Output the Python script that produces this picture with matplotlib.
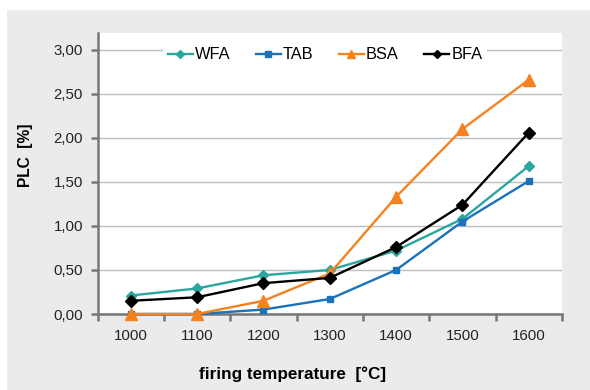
import matplotlib
matplotlib.use("Agg")
import matplotlib.pyplot as plt
from matplotlib.patches import Rectangle
import numpy as np

plt.rcParams['font.family'] = ['Liberation Sans', 'DejaVu Sans']

temps = ["1000", "1100", "1200", "1300", "1400", "1500", "1600"]
wfa = [0.21, 0.29, 0.44, 0.50, 0.72, 1.08, 1.68]
tab = [0.00, 0.00, 0.05, 0.17, 0.50, 1.05, 1.51]
bsa = [0.00, 0.00, 0.15, 0.46, 1.33, 2.10, 2.66]
bfa = [0.15, 0.19, 0.35, 0.41, 0.76, 1.24, 2.06]
yticks = [0.0, 0.5, 1.0, 1.5, 2.0, 2.5, 3.0]
ytick_labels = ["0,00", "0,50", "1,00", "1,50", "2,00", "2,50", "3,00"]

fig = plt.figure(figsize=(5.9, 3.9), dpi=100, facecolor='white')
fig.patches.append(Rectangle((7/590, 0), 1 - 7/590, 1 - 10/390,
                             transform=fig.transFigure, facecolor='#ebebeb',
                             edgecolor='none', zorder=-10))

ax = fig.add_axes([97.6/590, 1 - 314/390, (562 - 97.6)/590, (314 - 33)/390])
ax.set_facecolor('white')

x = np.arange(len(temps))
series = [
    ("WFA", wfa, '#2aa5a0', 'D', 5),
    ("TAB", tab, '#1a72bb', 's', 5),
    ("BSA", bsa, '#f6821f', '^', 8),
    ("BFA", bfa, '#000000', 'D', 6),
]
for name, vals, col, m, ms in series:
    ax.plot(x, vals, color=col, lw=1.7, marker=m, markersize=ms,
            label=name, clip_on=False, zorder=3)

ax.set_xlim(-0.5, len(temps) - 0.5)
ax.set_ylim(0, 3.19)

ax.set_yticks(yticks)
ax.set_yticklabels(ytick_labels)
ax.set_xticks(np.arange(-0.5, len(temps), 1.0))
ax.set_xticklabels([])
ax.set_xticks(x, minor=True)
ax.set_xticklabels(temps, minor=True)
ax.tick_params(axis='x', which='minor', length=0, pad=11, labelsize=10.8, colors='#222222')
ax.tick_params(axis='x', which='major', length=5, width=1.8, color='#777777')
ax.tick_params(axis='y', length=5, width=1.8, color='#777777', labelsize=10.8,
               labelcolor='#222222', pad=5.5)

ax.grid(axis='y', color='#bdbdbd', lw=1)
ax.set_axisbelow(True)
for s in ['top', 'right']:
    ax.spines[s].set_visible(False)
for s in ['left', 'bottom']:
    ax.spines[s].set_color('#777777')
    ax.spines[s].set_linewidth(1.8)

ax.set_ylabel("PLC  [%]", fontsize=11.2, fontweight='bold')
ax.set_xlabel("firing temperature  [°C]", fontsize=12.3, fontweight='bold')
ax.yaxis.set_label_coords(-0.139, 0.566)
ax.xaxis.set_label_coords(0.42, -0.185)

leg = ax.legend(loc='center', bbox_to_anchor=(0.49, 0.922), ncol=4, frameon=True,
                fancybox=False, edgecolor='none', facecolor='white', framealpha=1,
                fontsize=11.8, handlelength=1.5, handletextpad=0.15, columnspacing=1.55,
                borderpad=0.3, markerscale=0.75)

fig.savefig("out.png", dpi=100, facecolor=fig.get_facecolor())
